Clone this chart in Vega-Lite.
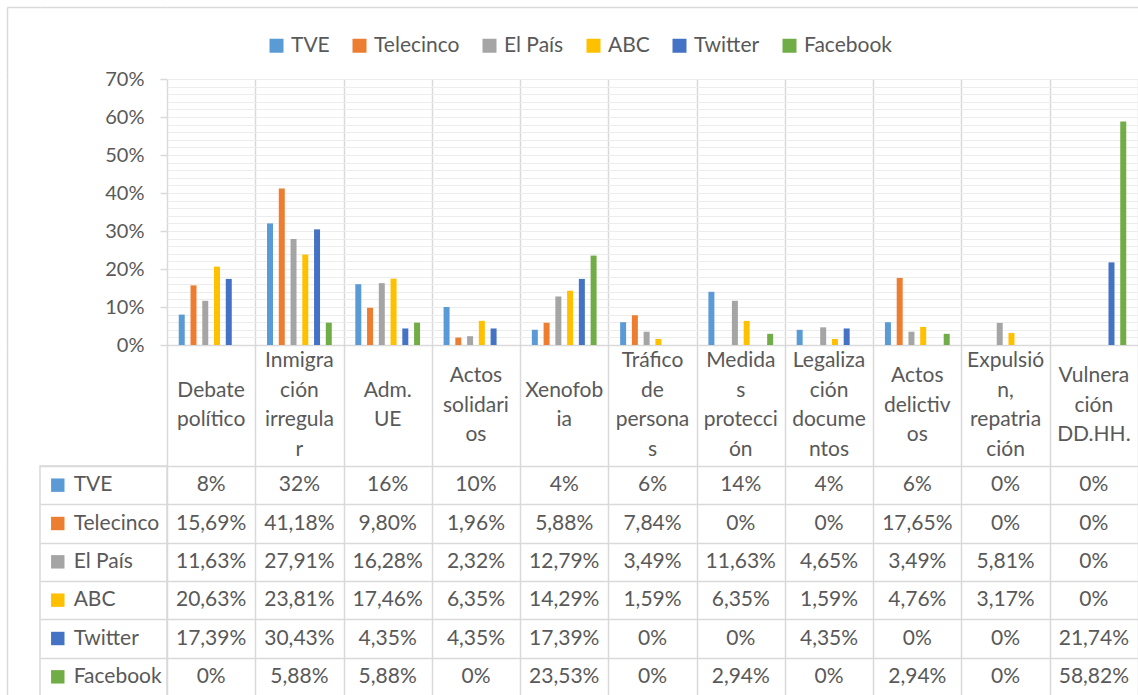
{
  "$schema": "https://vega.github.io/schema/vega-lite/v6.json",
  "padding": {"left": 7, "top": 1, "right": 0, "bottom": 0},
  "background": "white",
  "columns": 3,
  "spacing": 0,
  "align": "each",
  "bounds": "flush",
  "datasets": {
    "d": [
      {"cat": "Debate político", "series": "TVE", "v": 0.08},
      {"cat": "Inmigración irregular", "series": "TVE", "v": 0.32},
      {"cat": "Adm. UE", "series": "TVE", "v": 0.16},
      {"cat": "Actos solidarios", "series": "TVE", "v": 0.10},
      {"cat": "Xenofobia", "series": "TVE", "v": 0.04},
      {"cat": "Tráfico de personas", "series": "TVE", "v": 0.06},
      {"cat": "Medidas protección", "series": "TVE", "v": 0.14},
      {"cat": "Legalización documentos", "series": "TVE", "v": 0.04},
      {"cat": "Actos delictivos", "series": "TVE", "v": 0.06},
      {"cat": "Expulsión, repatriación", "series": "TVE", "v": 0},
      {"cat": "Vulneración DD.HH.", "series": "TVE", "v": 0},
      {"cat": "Debate político", "series": "Telecinco", "v": 0.1569},
      {"cat": "Inmigración irregular", "series": "Telecinco", "v": 0.4118},
      {"cat": "Adm. UE", "series": "Telecinco", "v": 0.098},
      {"cat": "Actos solidarios", "series": "Telecinco", "v": 0.0196},
      {"cat": "Xenofobia", "series": "Telecinco", "v": 0.0588},
      {"cat": "Tráfico de personas", "series": "Telecinco", "v": 0.0784},
      {"cat": "Medidas protección", "series": "Telecinco", "v": 0},
      {"cat": "Legalización documentos", "series": "Telecinco", "v": 0},
      {"cat": "Actos delictivos", "series": "Telecinco", "v": 0.1765},
      {"cat": "Expulsión, repatriación", "series": "Telecinco", "v": 0},
      {"cat": "Vulneración DD.HH.", "series": "Telecinco", "v": 0},
      {"cat": "Debate político", "series": "El País", "v": 0.1163},
      {"cat": "Inmigración irregular", "series": "El País", "v": 0.2791},
      {"cat": "Adm. UE", "series": "El País", "v": 0.1628},
      {"cat": "Actos solidarios", "series": "El País", "v": 0.0232},
      {"cat": "Xenofobia", "series": "El País", "v": 0.1279},
      {"cat": "Tráfico de personas", "series": "El País", "v": 0.0349},
      {"cat": "Medidas protección", "series": "El País", "v": 0.1163},
      {"cat": "Legalización documentos", "series": "El País", "v": 0.0465},
      {"cat": "Actos delictivos", "series": "El País", "v": 0.0349},
      {"cat": "Expulsión, repatriación", "series": "El País", "v": 0.0581},
      {"cat": "Vulneración DD.HH.", "series": "El País", "v": 0},
      {"cat": "Debate político", "series": "ABC", "v": 0.2063},
      {"cat": "Inmigración irregular", "series": "ABC", "v": 0.2381},
      {"cat": "Adm. UE", "series": "ABC", "v": 0.1746},
      {"cat": "Actos solidarios", "series": "ABC", "v": 0.0635},
      {"cat": "Xenofobia", "series": "ABC", "v": 0.1429},
      {"cat": "Tráfico de personas", "series": "ABC", "v": 0.0159},
      {"cat": "Medidas protección", "series": "ABC", "v": 0.0635},
      {"cat": "Legalización documentos", "series": "ABC", "v": 0.0159},
      {"cat": "Actos delictivos", "series": "ABC", "v": 0.0476},
      {"cat": "Expulsión, repatriación", "series": "ABC", "v": 0.0317},
      {"cat": "Vulneración DD.HH.", "series": "ABC", "v": 0},
      {"cat": "Debate político", "series": "Twitter", "v": 0.1739},
      {"cat": "Inmigración irregular", "series": "Twitter", "v": 0.3043},
      {"cat": "Adm. UE", "series": "Twitter", "v": 0.0435},
      {"cat": "Actos solidarios", "series": "Twitter", "v": 0.0435},
      {"cat": "Xenofobia", "series": "Twitter", "v": 0.1739},
      {"cat": "Tráfico de personas", "series": "Twitter", "v": 0},
      {"cat": "Medidas protección", "series": "Twitter", "v": 0},
      {"cat": "Legalización documentos", "series": "Twitter", "v": 0.0435},
      {"cat": "Actos delictivos", "series": "Twitter", "v": 0},
      {"cat": "Expulsión, repatriación", "series": "Twitter", "v": 0},
      {"cat": "Vulneración DD.HH.", "series": "Twitter", "v": 0.2174},
      {"cat": "Debate político", "series": "Facebook", "v": 0},
      {"cat": "Inmigración irregular", "series": "Facebook", "v": 0.0588},
      {"cat": "Adm. UE", "series": "Facebook", "v": 0.0588},
      {"cat": "Actos solidarios", "series": "Facebook", "v": 0},
      {"cat": "Xenofobia", "series": "Facebook", "v": 0.2353},
      {"cat": "Tráfico de personas", "series": "Facebook", "v": 0},
      {"cat": "Medidas protección", "series": "Facebook", "v": 0.0294},
      {"cat": "Legalización documentos", "series": "Facebook", "v": 0},
      {"cat": "Actos delictivos", "series": "Facebook", "v": 0.0294},
      {"cat": "Expulsión, repatriación", "series": "Facebook", "v": 0},
      {"cat": "Vulneración DD.HH.", "series": "Facebook", "v": 0.5882}
    ],
    "cats": [
      {"cat": "Debate político", "label": "Debate\npolítico"},
      {"cat": "Inmigración irregular", "label": "Inmigra\nción\nirregula\nr"},
      {"cat": "Adm. UE", "label": "Adm.\nUE"},
      {"cat": "Actos solidarios", "label": "Actos\nsolidari\nos"},
      {"cat": "Xenofobia", "label": "Xenofob\nia"},
      {"cat": "Tráfico de personas", "label": "Tráfico\nde\npersona\ns"},
      {"cat": "Medidas protección", "label": "Medida\ns\nprotecci\nón"},
      {"cat": "Legalización documentos", "label": "Legaliza\nción\ndocume\nntos"},
      {"cat": "Actos delictivos", "label": "Actos\ndelictiv\nos"},
      {"cat": "Expulsión, repatriación", "label": "Expulsió\nn,\nrepatria\nción"},
      {"cat": "Vulneración DD.HH.", "label": "Vulnera\nción\nDD.HH."}
    ],
    "series": [
      {"series": "TVE"},
      {"series": "Telecinco"},
      {"series": "El País"},
      {"series": "ABC"},
      {"series": "Twitter"},
      {"series": "Facebook"}
    ],
    "one": [{"k": 0}]
  },
  "concat": [
    {
      "width": 33, "height": 72,
      "data": {"name": "one"},
      "mark": {"type": "text"},
      "encoding": {
        "text": {"value": ""},
        "x": {"datum": 0, "type": "quantitative", "axis": {"orient": "top", "labels": false, "ticks": false, "grid": false, "domain": true, "domainColor": "#d9d9d9", "domainWidth": 1.5, "title": null}},
        "y": {"datum": 0, "type": "quantitative", "axis": {"orient": "left", "labels": false, "ticks": false, "grid": false, "domain": true, "domainColor": "#d9d9d9", "domainWidth": 1.5, "title": null}}
      }
    },
    {
      "width": 127, "height": 72,
      "data": {"name": "one"},
      "mark": {"type": "text"},
      "encoding": {
        "text": {"value": ""},
        "x": {"datum": 0, "type": "quantitative", "axis": {"orient": "top", "labels": false, "ticks": false, "grid": false, "domain": true, "domainColor": "#d9d9d9", "domainWidth": 1.5, "title": null}}
      }
    },
    {
      "width": 971, "height": 72,
      "data": {"name": "one"},
      "mark": {"type": "text"},
      "encoding": {
        "text": {"value": ""},
        "x": {"datum": 0, "type": "quantitative", "axis": {"orient": "top", "labels": false, "ticks": false, "grid": false, "domain": true, "domainColor": "#d9d9d9", "domainWidth": 1.5, "title": null}}
      }
    },
    {
      "width": 33, "height": 266,
      "data": {"name": "one"},
      "mark": {"type": "text"},
      "encoding": {
        "text": {"value": ""},
        "y": {"datum": 0, "type": "quantitative", "axis": {"orient": "left", "labels": false, "ticks": false, "grid": false, "domain": true, "domainColor": "#d9d9d9", "domainWidth": 1.5, "title": null}}
      }
    },
    {
      "width": 127, "height": 266,
      "data": {"name": "one"},
      "mark": {"type": "text"},
      "encoding": {"text": {"value": ""}}
    },
    {
      "width": 971,
      "height": 266,
      "data": {"name": "d"},
      "mark": {"type": "bar"},
      "encoding": {
        "x": {
          "field": "cat",
          "type": "nominal",
          "scale": {
            "domain": ["Debate político", "Inmigración irregular", "Adm. UE", "Actos solidarios", "Xenofobia", "Tráfico de personas", "Medidas protección", "Legalización documentos", "Actos delictivos", "Expulsión, repatriación", "Vulneración DD.HH."],
            "paddingInner": 0,
            "paddingOuter": 0
          },
          "axis": {
            "title": null,
            "labels": false,
            "ticks": false,
            "domain": true,
            "domainColor": "#d9d9d9",
            "domainWidth": 1.5,
            "grid": true,
            "gridColor": "#d9d9d9",
            "gridWidth": 1.5,
            "tickBand": "extent"
          }
        },
        "xOffset": {
          "field": "series",
          "type": "nominal",
          "scale": {
            "domain": ["TVE", "Telecinco", "El País", "ABC", "Twitter", "Facebook"],
            "paddingInner": 0.49,
            "paddingOuter": 1.19
          }
        },
        "y": {
          "field": "v",
          "type": "quantitative",
          "scale": {"domain": [0, 0.7], "nice": false},
          "axis": {
            "title": null,
            "format": ".0%",
            "values": [0, 0.02, 0.04, 0.06, 0.08, 0.1, 0.12, 0.14, 0.16, 0.18, 0.2, 0.22, 0.24, 0.26, 0.28, 0.3, 0.32, 0.34, 0.36, 0.38, 0.4, 0.42, 0.44, 0.46, 0.48, 0.5, 0.52, 0.54, 0.56, 0.58, 0.6, 0.62, 0.64, 0.66, 0.68, 0.7],
            "labelExpr": "round(datum.value*100) % 10 == 0 ? datum.label : ''",
            "grid": true,
            "gridColor": "#ececec",
            "gridWidth": 1,
            "domain": false,
            "ticks": true,
            "tickColor": "#d9d9d9",
            "tickWidth": 1.5,
            "tickSize": 7,
            "tickOpacity": {"condition": {"test": "round(datum.value*100) % 10 == 0", "value": 1}, "value": 0},
            "labelPadding": 16,
            "labelFont": "Lato",
            "labelFontSize": 20,
            "labelColor": "#595959"
          }
        },
        "color": {
          "field": "series",
          "type": "nominal",
          "scale": {
            "domain": ["TVE", "Telecinco", "El País", "ABC", "Twitter", "Facebook"],
            "range": ["#5B9BD5", "#ED7D31", "#A5A5A5", "#FFC000", "#4472C4", "#70AD47"]
          },
          "legend": {
            "orient": "none",
            "direction": "horizontal",
            "columns": 6,
            "legendX": 259,
            "legendY": 28,
            "title": null,
            "symbolType": "square",
            "symbolSize": 196,
            "symbolStrokeWidth": 0,
            "labelFont": "Lato",
            "labelFontSize": 21,
            "labelColor": "#595959",
            "labelOffset": 4,
            "columnPadding": 19
          }
        }
      }
    },
    {
      "width": 33, "height": 121,
      "data": {"name": "one"},
      "mark": {"type": "text"},
      "encoding": {
        "text": {"value": ""},
        "y": {"datum": 0, "type": "quantitative", "axis": {"orient": "left", "labels": false, "ticks": false, "grid": false, "domain": true, "domainColor": "#d9d9d9", "domainWidth": 1.5, "title": null}}
      }
    },
    {
      "width": 127, "height": 121,
      "data": {"name": "one"},
      "mark": {"type": "text"},
      "encoding": {"text": {"value": ""}}
    },
    {
      "width": 971,
      "height": 121,
      "data": {"name": "cats"},
      "encoding": {
        "x": {
          "field": "cat",
          "type": "nominal",
          "scale": {
            "domain": ["Debate político", "Inmigración irregular", "Adm. UE", "Actos solidarios", "Xenofobia", "Tráfico de personas", "Medidas protección", "Legalización documentos", "Actos delictivos", "Expulsión, repatriación", "Vulneración DD.HH."],
            "paddingInner": 0,
            "paddingOuter": 0
          },
          "axis": {
            "title": null,
            "labels": false,
            "ticks": false,
            "domain": false,
            "grid": true,
            "gridColor": "#d9d9d9",
            "gridWidth": 1.5,
            "tickBand": "extent"
          }
        },
        "text": {"field": "label"}
      },
      "layer": [
        {
          "transform": [{"filter": "length(split(datum.label, '\\n')) == 2"}],
          "mark": {"type": "text", "lineBreak": "\n", "lineHeight": 29.5, "font": "Lato", "fontSize": 21, "color": "#595959", "baseline": "middle", "align": "center", "dy": -14.75}
        },
        {
          "transform": [{"filter": "length(split(datum.label, '\\n')) == 3"}],
          "mark": {"type": "text", "lineBreak": "\n", "lineHeight": 29.5, "font": "Lato", "fontSize": 21, "color": "#595959", "baseline": "middle", "align": "center", "dy": -29.5}
        },
        {
          "transform": [{"filter": "length(split(datum.label, '\\n')) == 4"}],
          "mark": {"type": "text", "lineBreak": "\n", "lineHeight": 29.5, "font": "Lato", "fontSize": 21, "color": "#595959", "baseline": "middle", "align": "center", "dy": -44.25}
        }
      ]
    },
    {
      "width": 33, "height": 230,
      "data": {"name": "one"},
      "mark": {"type": "text"},
      "encoding": {
        "text": {"value": ""},
        "y": {"datum": 0, "type": "quantitative", "axis": {"orient": "left", "labels": false, "ticks": false, "grid": false, "domain": true, "domainColor": "#d9d9d9", "domainWidth": 1.5, "title": null}}
      }
    },
    {
      "width": 127,
      "height": 230,
      "data": {"name": "series"},
      "view": {"stroke": "#d9d9d9", "strokeWidth": 1.5},
      "encoding": {
        "y": {
          "field": "series",
          "type": "nominal",
          "scale": {"domain": ["TVE", "Telecinco", "El País", "ABC", "Twitter", "Facebook"], "paddingInner": 0, "paddingOuter": 0},
          "axis": {
            "title": null,
            "labels": false,
            "ticks": false,
            "domain": false,
            "grid": true,
            "gridColor": "#d9d9d9",
            "gridWidth": 1.5,
            "tickBand": "extent"
          }
        }
      },
      "layer": [
        {
          "mark": {"type": "point", "shape": "square", "filled": true, "size": 180, "opacity": 1},
          "encoding": {
            "x": {"datum": "key", "type": "nominal", "scale": {"type": "band", "domain": ["key", "name"], "paddingInner": 0, "paddingOuter": 1.5, "align": 0.03}, "axis": null},
            "color": {"field": "series", "type": "nominal"}
          }
        },
        {
          "mark": {"type": "text", "align": "left", "baseline": "middle", "font": "Lato", "fontSize": 21, "color": "#595959"},
          "encoding": {
            "x": {"datum": "name", "type": "nominal", "bandPosition": 0},
            "text": {"field": "series"}
          }
        }
      ]
    },
    {
      "width": 971,
      "height": 230,
      "data": {"name": "d"},
      "mark": {"type": "text", "font": "Lato", "fontSize": 21, "color": "#595959", "baseline": "middle", "align": "center"},
      "encoding": {
        "x": {
          "field": "cat",
          "type": "nominal",
          "scale": {
            "domain": ["Debate político", "Inmigración irregular", "Adm. UE", "Actos solidarios", "Xenofobia", "Tráfico de personas", "Medidas protección", "Legalización documentos", "Actos delictivos", "Expulsión, repatriación", "Vulneración DD.HH."],
            "paddingInner": 0,
            "paddingOuter": 0
          },
          "axis": {
            "title": null,
            "labels": false,
            "ticks": false,
            "domain": false,
            "grid": true,
            "gridColor": "#d9d9d9",
            "gridWidth": 1.5,
            "tickBand": "extent"
          }
        },
        "y": {
          "field": "series",
          "type": "nominal",
          "scale": {"domain": ["TVE", "Telecinco", "El País", "ABC", "Twitter", "Facebook"], "paddingInner": 0, "paddingOuter": 0},
          "axis": {
            "title": null,
            "labels": false,
            "ticks": false,
            "domain": false,
            "grid": true,
            "gridColor": "#d9d9d9",
            "gridWidth": 1.5,
            "tickBand": "extent"
          }
        },
        "text": {
          "condition": {"test": "datum.v == 0 || datum.series == 'TVE'", "field": "v", "type": "quantitative", "format": ".0%"},
          "field": "v",
          "type": "quantitative",
          "format": ".2%"
        }
      }
    }
  ],
  "config": {
    "locale": {"number": {"decimal": ",", "thousands": ".", "grouping": [3], "currency": ["", " €"]}},
    "view": {"stroke": null},
    "font": "Lato"
  }
}
